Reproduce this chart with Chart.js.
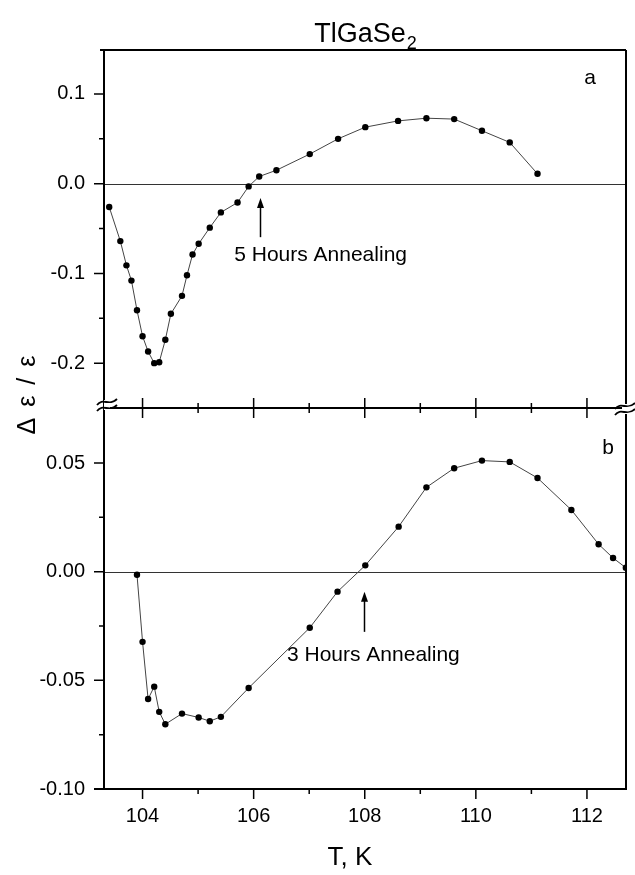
<!DOCTYPE html>
<html><head><meta charset="utf-8">
<script src="https://cdn.jsdelivr.net/npm/chart.js@4/dist/chart.umd.min.js"></script>
<style>html,body{margin:0;padding:0;background:#fff}#wrap{width:635px;height:875px;position:relative}canvas{display:block}</style>
</head><body><div id="wrap"><canvas id="c" width="635" height="875"></canvas></div>
<script>
// ---- data ----
const topT = [103.40,103.60,103.71,103.80,103.90,104.00,104.10,104.21,104.30,104.41,104.51,104.71,104.80,104.90,105.01,105.21,105.41,105.71,105.91,106.10,106.41,107.01,107.52,108.01,108.60,109.11,109.61,110.11,110.61,111.11];
const topV = [-0.026,-0.064,-0.091,-0.108,-0.141,-0.170,-0.187,-0.200,-0.199,-0.174,-0.145,-0.125,-0.102,-0.079,-0.067,-0.049,-0.032,-0.021,-0.003,0.008,0.015,0.033,0.050,0.063,0.070,0.073,0.072,0.059,0.046,0.011];
const botT = [103.90,104.00,104.10,104.21,104.30,104.41,104.71,105.01,105.21,105.41,105.91,107.01,107.51,108.01,108.61,109.11,109.61,110.11,110.61,111.11,111.72,112.21,112.47,112.70];
const botV = [-0.0014,-0.0323,-0.0586,-0.0529,-0.0645,-0.0702,-0.0653,-0.0671,-0.0688,-0.0668,-0.0535,-0.0258,-0.0092,0.0029,0.0207,0.0388,0.0476,0.0511,0.0505,0.0431,0.0284,0.0126,0.0063,0.0018];

const xTicks = [104,105,106,107,108,109,110,111,112];
const xLabels = [104,106,108,110,112];
const topYTicks = [-0.2,-0.15,-0.1,-0.05,0,0.05,0.1];
const topYLabels = [-0.2,-0.1,0,0.1];
const botYTicks = [-0.1,-0.075,-0.05,-0.025,0,0.025,0.05];
const botYLabels = [-0.1,-0.05,0,0.05];

const titleText = 'TlGaSe';
const titleSub = '2';
const xTitle = 'T, K';
const yTitle = 'Δ ε / ε';
const notes = [
  {axis:'ya', text:'5 Hours Annealing', arrowX:106.11, tip:-0.016, tail:-0.0596, textX:105.65, textY:-0.080},
  {axis:'yb', text:'3 Hours Annealing', arrowX:107.99, tip:-0.0093, tail:-0.0277, textX:106.60, textY:-0.0383}
];

// ---- chart ----
const FONT = '"Liberation Sans", Arial, Helvetica, sans-serif';
const near = (list, v) => list.some(x => Math.abs(x - v) < 1e-9);
const fixTicks = vals => scale => { scale.ticks = vals.map(v => ({value: v})); };

const framePlugin = {
  id: 'frame',
  beforeDatasetsDraw(chart) {
    const ctx = chart.ctx, a = chart.chartArea;
    ctx.save();
    ctx.strokeStyle = '#333';
    ctx.lineWidth = 1;
    [chart.scales.ya, chart.scales.yb].forEach(s => {
      const y = Math.round(s.getPixelForValue(0)) + 0.5;
      ctx.beginPath(); ctx.moveTo(a.left, y); ctx.lineTo(a.right, y); ctx.stroke();
    });
    ctx.restore();
  },
  afterDraw(chart) {
    const ctx = chart.ctx, a = chart.chartArea;
    const xs = chart.scales.x, ya = chart.scales.ya, yb = chart.scales.yb;
    const yBreak = ya.bottom;
    ctx.save();
    ctx.strokeStyle = '#000';
    ctx.lineWidth = 2;
    ctx.beginPath();
    ctx.moveTo(a.left, a.top); ctx.lineTo(a.left, a.bottom);
    ctx.moveTo(a.left - 4, a.top); ctx.lineTo(a.right, a.top);
    ctx.moveTo(a.right, a.top); ctx.lineTo(a.right, a.bottom);
    ctx.moveTo(a.left - 10, a.bottom); ctx.lineTo(a.right + 1, a.bottom);
    ctx.moveTo(a.left, yBreak); ctx.lineTo(a.right, yBreak);
    ctx.stroke();
    // ticks
    ctx.lineWidth = 1.5;
    ctx.beginPath();
    [[ya, topYLabels], [yb, botYLabels]].forEach(([s, labs]) => {
      s.ticks.forEach(t => {
        const y = s.getPixelForValue(t.value);
        const len = near(labs, t.value) ? 10 : 5;
        ctx.moveTo(a.left - len, y); ctx.lineTo(a.left, y);
      });
    });
    xs.ticks.forEach(t => {
      const x = xs.getPixelForValue(t.value);
      const len = near(xLabels, t.value) ? 10 : 5;
      ctx.moveTo(x, a.bottom); ctx.lineTo(x, a.bottom + len);
      ctx.moveTo(x, yBreak - len); ctx.lineTo(x, yBreak + len);
    });
    ctx.stroke();
    // break marks
    const brk = (cx, cy) => {
      ctx.fillStyle = '#fff';
      ctx.fillRect(cx - 3, cy - 5, 6, 10);
      ctx.lineWidth = 1.8;
      ctx.strokeStyle = '#000';
      [-3, 3].forEach(o => {
        ctx.beginPath();
        ctx.moveTo(cx - 10, cy + 3 + o);
        ctx.bezierCurveTo(cx - 4, cy - 5 + o, cx + 2, cy + 5 + o, cx + 10, cy - 3 + o);
        ctx.stroke();
      });
    };
    brk(a.left + 3, yBreak - 3);
    brk(a.right - 1, yBreak + 1);
    // texts
    ctx.fillStyle = '#000';
    ctx.font = '27px ' + FONT;
    const w1 = ctx.measureText(titleText).width;
    ctx.font = '18px ' + FONT;
    const w2 = ctx.measureText(titleSub).width;
    const tx = 365 - (w1 + w2) / 2;
    ctx.textBaseline = 'alphabetic';
    ctx.textAlign = 'left';
    ctx.font = '27px ' + FONT;
    ctx.fillText(titleText, tx, 42);
    ctx.font = '18px ' + FONT;
    ctx.fillText(titleSub, tx + w1 + 1, 49);

    ctx.font = '26px ' + FONT;
    ctx.textAlign = 'center';
    ctx.fillText(xTitle, 350, 865);

    ctx.save();
    ctx.translate(28, 394);
    ctx.rotate(-Math.PI / 2);
    ctx.font = '25px ' + FONT;
    ctx.textBaseline = 'middle';
    try { ctx.letterSpacing = '2px'; } catch (e) {}
    ctx.fillText(yTitle, 0, 0);
    ctx.restore();

    ctx.font = '21px ' + FONT;
    ctx.textBaseline = 'middle';
    ctx.textAlign = 'center';
    ctx.fillText('a', 590, 78);
    ctx.fillText('b', 608, 448);

    notes.forEach(n => {
      const s = chart.scales[n.axis];
      const x = Math.round(xs.getPixelForValue(n.arrowX)) + 0.5;
      const yt = s.getPixelForValue(n.tip), yl = s.getPixelForValue(n.tail);
      ctx.lineWidth = 1.5;
      ctx.beginPath(); ctx.moveTo(x, yl); ctx.lineTo(x, yt + 8); ctx.stroke();
      ctx.beginPath(); ctx.moveTo(x, yt); ctx.lineTo(x - 3.5, yt + 10); ctx.lineTo(x + 3.5, yt + 10); ctx.closePath(); ctx.fill();
      ctx.font = '21px ' + FONT;
      ctx.textAlign = 'left';
      ctx.textBaseline = 'middle';
      ctx.fillText(n.text, xs.getPixelForValue(n.textX), s.getPixelForValue(n.textY));
    });
    ctx.restore();
  }
};

const tickFont = {family: FONT, size: 20};
const yOpts = (ticks, labels, weight, min, max, dec) => ({
  type: 'linear', position: 'left', stack: 'panels', stackWeight: weight,
  min: min, max: max,
  afterBuildTicks: fixTicks(ticks),
  afterFit: s => { s.width = 104; },
  grid: {display: false, drawTicks: false}, border: {display: false},
  ticks: {autoSkip: false, padding: 19, color: '#000', font: tickFont,
    callback: v => near(labels, v) ? Number(v).toFixed(dec) : ''}
});

new Chart(document.getElementById('c'), {
  type: 'scatter',
  data: {datasets: [
    {label: 'a', data: topT.map((t, i) => ({x: t, y: topV[i]})), yAxisID: 'ya', showLine: true,
     borderColor: '#444', borderWidth: 1, pointRadius: 3.2, pointBackgroundColor: '#000', pointBorderWidth: 0, tension: 0},
    {label: 'b', data: botT.map((t, i) => ({x: t, y: botV[i]})), yAxisID: 'yb', showLine: true,
     borderColor: '#444', borderWidth: 1, pointRadius: 3.2, pointBackgroundColor: '#000', pointBorderWidth: 0, tension: 0}
  ]},
  options: {
    responsive: false, animation: false, devicePixelRatio: 1, events: [],
    layout: {padding: {left: 0, right: 9, top: 50, bottom: 0}},
    plugins: {legend: {display: false}, tooltip: {enabled: false}},
    scales: {
      x: {type: 'linear', position: 'bottom', min: 103.306, max: 112.703,
        afterBuildTicks: fixTicks(xTicks),
        afterFit: s => { s.height = 86; },
        grid: {display: false, drawTicks: false}, border: {display: false},
        ticks: {autoSkip: false, maxRotation: 0, padding: 15, color: '#000', font: tickFont,
          callback: v => near(xLabels, v) ? String(v) : ''}},
      yb: yOpts(botYTicks, botYLabels, 381, -0.1, 0.0753, 2),
      ya: yOpts(topYTicks, topYLabels, 358, -0.25, 0.149, 1)
    }
  },
  plugins: [framePlugin]
});
</script>
</body></html>
